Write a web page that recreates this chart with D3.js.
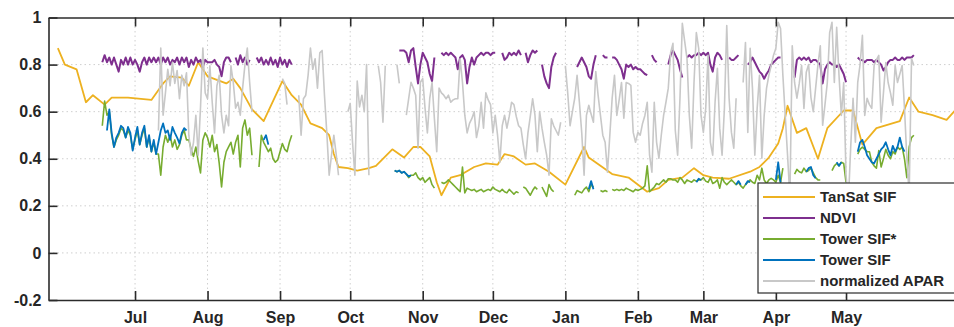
<!DOCTYPE html>
<html>
<head>
<meta charset="utf-8">
<script src="https://cdn.jsdelivr.net/npm/d3@7"></script>
<style>
  body { margin: 0; background: #fff; }
  svg { display: block; }
  text { font-family: "Liberation Sans", Arial, sans-serif; font-weight: bold; fill: #262626; }
</style>
</head>
<body>
<svg id="chart" width="954" height="327"></svg>
<script>
// all days are counted from 1 Jul 2017
const monthLabels = ["Jul", "Aug", "Sep", "Oct", "Nov", "Dec", "Jan", "Feb", "Mar", "Apr", "May"];
const yTicks = [-0.2, 0, 0.2, 0.4, 0.6, 0.8, 1];

// TanSat SIF: [day, value]
const tansat = [
  [-33,0.87],[-30,0.80],[-25,0.78],[-21,0.64],[-18,0.67],[-13,0.63],[-10,0.66],[-3,0.66],[7,0.65],
  [12,0.72],[15,0.75],[20,0.745],[23,0.71],[27,0.81],[31,0.75],[39,0.72],[42,0.74],[45,0.70],
  [50,0.61],[55,0.56],[63,0.73],[67,0.67],[71,0.63],[75,0.55],[80,0.53],[83,0.50],[85,0.42],
  [87,0.365],[91,0.36],[95,0.35],[100,0.36],[103,0.37],[110,0.44],[115,0.405],[119,0.45],[122,0.45],
  [126,0.41],[129,0.30],[131,0.245],[135,0.32],[139,0.33],[145,0.365],[150,0.38],[155,0.375],
  [158,0.42],[162,0.41],[167,0.375],[171,0.38],[177,0.345],[184,0.29],[192,0.45],[194,0.405],
  [204,0.335],[211,0.32],[219,0.26],[224,0.275],[228,0.31],[234,0.32],[239,0.36],[243,0.33],
  [247,0.32],[254,0.315],[263,0.345],[267,0.365],[271,0.405],[275,0.465],[277,0.53],[279,0.625],
  [283,0.51],[287,0.53],[292,0.40],[296,0.53],[303,0.605],[307,0.605],[311,0.46],[317,0.53],
  [327,0.56],[331,0.66],[335,0.60],[341,0.585],[347,0.565],[352,0.62]
];

// daily series, as runs: [first day, values...]
const ndvi = [
  [-14, [0.81,0.84,0.81,0.83,0.80,0.83,0.80,0.77,0.82,0.80,0.83,0.80,0.83,0.80,
         0.82,0.80,0.77,0.81,0.83,0.80,0.83,0.81,0.83,0.81,0.83,0.80,0.83,0.81,0.83,0.80,
         0.82,0.81,0.83,0.80,0.83,0.81,0.83,0.79,0.82,0.80,0.83,0.81,0.82,0.79,
         0.82,0.81,0.81,0.81,0.82,0.80,0.79,0.75,0.81,0.83,0.83,0.81]],
  [43, [0.83,0.80,0.84,0.81,0.83,0.80,0.82]],
  [52, [0.83,0.81,0.83,0.80,0.82,0.80,0.83,0.80,0.82,0.79,0.83,0.80,0.82,0.79,0.82,0.80]],
  [113, [0.86,0.86,0.86,0.85,0.81,0.86,0.87,0.79,0.72,0.80,0.85,0.83,0.81,0.76,0.73,0.83]],
  [131, [0.85,0.84,0.85,0.84,0.85,0.84,0.83,0.78,0.83,0.84,0.82,0.72,0.79,0.83,0.80,0.83,
         0.84,0.85,0.84,0.85,0.85,0.84,0.85,0.85]],
  [157, [0.85,0.82,0.83,0.85,0.84,0.85,0.84,0.86,0.84]],
  [167, [0.85,0.81,0.84,0.86,0.85,0.86]],
  [174, [0.80,0.75,0.72,0.70,0.79,0.83,0.85]],
  [189, [0.79,0.81,0.83,0.81,0.79,0.75,0.74,0.80,0.84]],
  [200, [0.84,0.83,0.83]],
  [204, [0.83,0.83,0.82,0.80,0.78,0.74,0.80,0.79,0.80,0.78,0.79,0.78,0.78,0.77,0.76,0.755]],
  [221, [0.84,0.82,0.81]],
  [228, [0.80,0.84,0.86,0.84,0.82,0.78,0.745]],
  [236, [0.83,0.84,0.83,0.84,0.84,0.85,0.84,0.85,0.84,0.85,0.80,0.77,0.83,0.85,0.84,0.82]],
  [254, [0.83,0.82,0.82,0.83,0.84]],
  [262, [0.80,0.81,0.83,0.81,0.79,0.77,0.76,0.74,0.76,0.775,0.80,0.81,0.82,0.83,0.83]],
  [282, [0.745,0.82,0.83,0.82,0.83,0.82,0.83,0.81,0.82,0.82,0.81,0.80,0.72,0.78,0.80,0.81,
         0.80,0.80,0.79,0.80,0.78,0.76,0.725]],
  [309, [0.83,0.82,0.82,0.81,0.82,0.82,0.82,0.81,0.82,0.81,0.80,0.775,0.79,0.81,0.82,0.82,
         0.83,0.82,0.82,0.83,0.82,0.83,0.83,0.83,0.84]]
];

const towerSifStar = [
  [-14, [0.54,0.645,0.585,0.60,0.50,0.45,0.48,0.50,0.53,0.52,0.49,0.52,0.50,0.44,
         0.48,0.52,0.46,0.50,0.53,0.45,0.49,0.43,0.47,0.42,
         0.42,0.33,0.45,0.50,0.47,0.50,0.45,0.48,0.44,0.46,
         0.50,0.52,0.48,0.48,0.44,0.41,0.45,0.39,0.34,0.48,
         0.51,0.49,0.45,0.50,0.43,0.46,0.38,0.28,0.385,0.43,
         0.45,0.47,0.42,0.47,0.50,0.365,0.53,0.565,0.50,0.53,0.415]],
  [53, [0.365,0.50,0.47,0.45,0.43,0.445,0.40,0.385,0.395,0.43,0.465,0.44,0.43,0.47,0.50]],
  [111, [0.35,0.345,0.35,0.34,0.345,0.335,0.32,0.33,0.33,0.34,0.32,0.31,0.32,0.30,0.31,0.32,0.29,0.275]],
  [131, [0.30,0.295,0.30,0.31,0.30,0.29,0.28,0.27,0.26,0.365,0.255,0.275,0.27,0.265,0.27,0.26,
         0.265,0.27,0.26,0.265,0.27,0.265,0.28,0.27,0.265,0.26,0.27,0.26,0.255,0.27,0.26,0.25,0.26,0.255]],
  [166, [0.28,0.275,0.26,0.245,0.265,0.28,0.27]],
  [174, [0.28,0.26,0.24,0.29,0.27,0.26]],
  [188, [0.245,0.265,0.26,0.255,0.27,0.28,0.26,0.29,0.28]],
  [199, [0.265,0.26,0.265,0.26]],
  [204, [0.27,0.265,0.27,0.265,0.27,0.265,0.275,0.27,0.265,0.26,
         0.27,0.265,0.27,0.275,0.285,0.37,0.26,0.27,0.28,0.295,
         0.29,0.30,0.31,0.30,0.315,0.315,0.31,0.31,0.30,0.32,
         0.31,0.295,0.31,0.305,0.30,0.31,0.305,0.31,0.31,0.32,
         0.305,0.30,0.32,0.295,0.30,0.31,0.275,0.32,0.30,0.29,
         0.30,0.31,0.30,0.29,0.30,0.285,0.275,0.29,0.30,0.31,
         0.30,0.295,0.33,0.31,0.36,0.31,0.295,0.31,0.317,0.31,
         0.30,0.33,0.30,0.36]],
  [282, [0.335,0.355,0.345,0.34,0.36,0.345,0.35,0.36,0.34,0.32,0.31,0.31]],
  [298, [0.35,0.37,0.38,0.37,0.385,0.38,0.30]],
  [309, [0.42,0.44,0.45,0.44,0.43,0.43,0.385,0.37,0.36,0.435,0.365,0.40,0.44,0.415,0.40,0.43,
         0.42,0.45,0.44,0.45,0.40,0.32,0.45,0.49,0.50]]
];

const towerSif = [
  [-12, [0.52,0.61,0.51,0.45,0.49,0.51,0.54,0.53,0.49,0.535,0.51,0.435,0.49,0.535,0.46,0.51,
         0.54,0.45,0.50,0.43,0.48,0.42,0.47,0.52,0.55,0.51,0.52,0.48,0.535,0.51,0.49,0.465,
         0.51,0.53,0.52]],
  [55, [0.48,0.50,0.46]],
  [111, [0.35,0.345,0.35,0.34,0.345,0.335,0.325,0.33]],
  [194, [0.27,0.305,0.27]],
  [240, [0.30,0.315,0.31]],
  [257, [0.29,0.305,0.29]],
  [261, [0.29,0.305,0.30]],
  [274, [0.31,0.385,0.30]],
  [287, [0.345,0.36,0.365,0.33,0.317]],
  [300, [0.385,0.37,0.385]],
  [309, [0.43,0.47,0.48,0.45,0.415,0.40,0.385,0.38,0.40,0.42,0.44,0.45,0.47,0.44,0.415,0.455,
         0.43,0.45,0.49,0.45,0.43]]
];

const apar = [
  [10, [0.52,0.87,0.585,0.68,0.78,0.71,0.81,0.72,0.775,0.655,0.755,0.71,0.765,0.50,0.415,0.47,
        0.585,0.415,0.62,0.87,0.68,0.655,0.795,0.64,0.51,0.71,0.755,0.585,0.51,0.585,0.54,
        0.795,0.725,0.615,0.64,0.585,0.70,0.80,0.87,0.725,0.60]],
  [63, [0.74,0.72,0.63]],
  [70, [0.67,0.50,0.655,0.67,0.755,0.87,0.78,0.825,0.70,0.85,0.86,0.67,0.51,0.33,0.415,0.50,0.42,0.33]],
  [91, [0.60,0.635,0.47,0.33,0.73,0.62,0.67,0.60,0.80,0.33]],
  [104, [0.795,0.725,0.555,0.795]],
  [112, [0.80,0.72]],
  [116, [0.585,0.655,0.725,0.70,0.67,0.445,0.725,0.74,0.615,0.51,0.655,0.725,0.57,0.43,0.70,
         0.68,0.67,0.655,0.67,0.64,0.65,0.655,0.655,0.825,0.725,0.585,0.51,0.55,0.57,0.60,0.49,
         0.54,0.64,0.53,0.68,0.65,0.63,0.51,0.585,0.50,0.385,0.54,0.585,0.53,0.58,0.64,0.63,
         0.58,0.54,0.53,0.46,0.40,0.51,0.58,0.655,0.585,0.43,0.60,0.53,0.47,0.415,0.33,0.57,
         0.54,0.52,0.50,0.555]],
  [184, [0.795,0.68,0.54,0.60,0.657,0.754,0.64,0.51,0.33,0.584,0.627,0.59,0.555,0.77,0.669,
         0.584,0.50,0.47,0.343,0.50,0.657,0.754,0.584,0.65,0.724,0.572,0.724,0.72,0.712,0.512,
         0.47,0.512,0.50,0.55,0.584,0.64,0.415,0.343,0.64,0.47,0.402,0.50,0.584,0.64,0.70,
         0.85,0.89,0.52,0.415,0.657,0.975,0.90,0.826,0.584,0.445,0.724,0.936,0.869,0.584,
         0.512,0.614,0.839,0.47,0.415,0.64,0.784,0.529,0.415,0.614,0.966,0.657,0.512,0.445,0.657]],
  [260, [0.724,0.894,0.512,0.869,0.699,0.415,0.614,0.754,0.402,0.584,0.699,0.754,0.796,0.84,
         0.869,0.98,0.953,0.754,0.584,0.415,0.233,0.88,0.724,0.657,0.72,0.796,0.614,0.767,
         0.80,0.66,0.60,0.70,0.80,0.88,0.542,0.63,0.724,0.936,0.98,0.724,0.958,0.754,0.584,
         0.724,0.33,0.22,0.45,0.657,0.47,0.724,0.80,0.924,0.584,0.657,0.63,0.614,0.796,0.82,
         0.839,0.555,0.68,0.809,0.724,0.68,0.627,0.796,0.724,0.76,0.796,0.614,0.402,0.25,
         0.826,0.796]]
];

const W = 954, H = 327;
const DAY = 864e5;
const origin = Date.UTC(2017, 6, 1);
const toDate = d => new Date(origin + d * DAY);

const x = d3.scaleUtc()
  .domain([toDate(-37), toDate(365)])
  .range([48.5, 988.7]);

const y = d3.scaleLinear()
  .domain([-0.2, 1])
  .range([300, 17.5]);

const x0 = x.range()[0];
const svg = d3.select("#chart");

// grid
const monthTicks = d3.utcMonth.range(new Date(Date.UTC(2017, 6, 1)), new Date(Date.UTC(2018, 5, 1)));
const grid = svg.append("g")
  .attr("stroke", "#cfcfcf")
  .attr("stroke-width", 1)
  .attr("stroke-dasharray", "1.5,3");

grid.selectAll(".hgrid")
  .data(yTicks.slice(1, -1))
  .join("line")
  .attr("x1", x0).attr("x2", W)
  .attr("y1", d => y(d)).attr("y2", d => y(d));

grid.selectAll(".vgrid")
  .data(monthTicks)
  .join("line")
  .attr("x1", d => x(d)).attr("x2", d => x(d))
  .attr("y1", y(1)).attr("y2", y(-0.2));

// lines
const line = d3.line()
  .x(d => x(toDate(d[0])))
  .y(d => y(d[1]));

const runPoints = runs => runs.map(([start, vals]) => vals.map((v, i) => [start + i, v]));

function drawSeries(paths, color, width) {
  svg.append("g")
    .selectAll("path")
    .data(paths)
    .join("path")
    .attr("d", line)
    .attr("fill", "none")
    .attr("stroke", color)
    .attr("stroke-width", width)
    .attr("stroke-linejoin", "round");
}

const series = [
  { name: "TanSat SIF", color: "#EDB120", paths: [tansat], width: 1.8 },
  { name: "NDVI", color: "#7E2F8E", paths: runPoints(ndvi), width: 2 },
  { name: "Tower SIF*", color: "#77AC30", paths: runPoints(towerSifStar), width: 1.6 },
  { name: "Tower SIF", color: "#0072BD", paths: runPoints(towerSif), width: 1.8 },
  { name: "normalized APAR", color: "#C8C8C8", paths: runPoints(apar), width: 1.6 }
];

series.forEach(s => drawSeries(s.paths, s.color, s.width));

// axes
function styleAxis(g) {
  g.attr("font-size", 16)
    .attr("font-family", "Liberation Sans, Arial, sans-serif")
    .attr("font-weight", "bold");
  g.selectAll("path, line").attr("stroke", "#2b2b2b").attr("stroke-width", 1.6);
  g.selectAll("text").attr("fill", "#262626");
}

svg.append("g")
  .attr("transform", `translate(0,${y(-0.2)})`)
  .call(d3.axisBottom(x)
    .tickValues(monthTicks)
    .tickFormat((d, i) => monthLabels[i])
    .tickSizeInner(-9)
    .tickSizeOuter(0)
    .tickPadding(12))
  .call(styleAxis);

svg.append("g")
  .attr("transform", `translate(0,${y(1)})`)
  .call(d3.axisTop(x)
    .tickValues(monthTicks)
    .tickFormat("")
    .tickSizeInner(-9)
    .tickSizeOuter(0))
  .call(styleAxis);

svg.append("g")
  .attr("transform", `translate(${x0},0)`)
  .call(d3.axisLeft(y)
    .tickValues(yTicks)
    .tickFormat(d => String(+d.toFixed(1)))
    .tickSizeInner(-9)
    .tickSizeOuter(0)
    .tickPadding(7))
  .call(styleAxis);

// legend
const legend = svg.append("g").attr("transform", "translate(758,183)");
legend.append("rect")
  .attr("width", 210).attr("height", 110)
  .attr("fill", "#fff")
  .attr("stroke", "#2b2b2b")
  .attr("stroke-width", 1.2);

const rows = legend.selectAll(".row")
  .data(series)
  .join("g")
  .attr("transform", (d, i) => `translate(0,${14 + i * 21})`);

rows.append("line")
  .attr("x1", 5).attr("x2", 57)
  .attr("stroke", d => d.color)
  .attr("stroke-width", 1.8);

rows.append("text")
  .attr("x", 62)
  .attr("dy", "0.35em")
  .attr("font-size", 15)
  .text(d => d.name);
</script>
</body>
</html>
